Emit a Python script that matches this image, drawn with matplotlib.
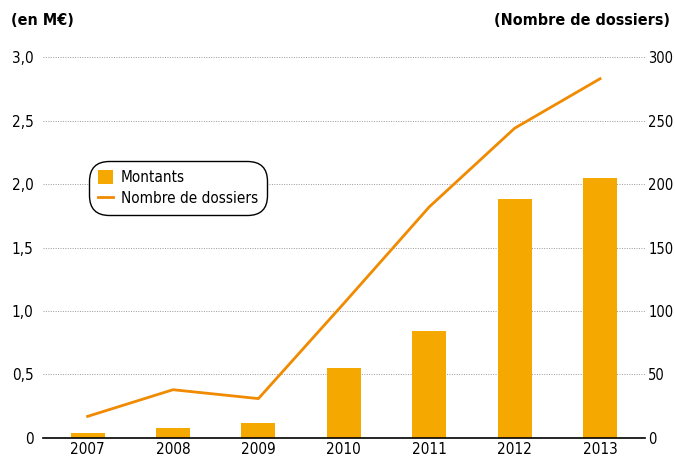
import numpy as np
import matplotlib.pyplot as plt
from matplotlib.patches import Patch
from matplotlib.lines import Line2D

# data
years = ['2007', '2008', '2009', '2010', '2011', '2012', '2013']
montants = [0.04, 0.08, 0.12, 0.55, 0.84, 1.88, 2.05]      # M€
dossiers = [17, 38, 31, 106, 182, 244, 283]                  # nombre de dossiers

left_ticks = [0, 0.5, 1.0, 1.5, 2.0, 2.5, 3.0]
left_labels = ['0', '0,5', '1,0', '1,5', '2,0', '2,5', '3,0']
right_ticks = [0, 50, 100, 150, 200, 250, 300]

BAR_COLOR = '#F5A800'
LINE_COLOR = '#F08A00'

plt.rcParams['font.family'] = ['DejaVu Sans']
plt.rcParams['font.stretch'] = 'condensed'
plt.rcParams['font.size'] = 11

fig = plt.figure(figsize=(6.75, 4.61), dpi=100)
ax = fig.add_axes([0.064, 0.05, 0.892, 0.826])
x = np.arange(len(years))

ax.bar(x, montants, width=0.4, color=BAR_COLOR, zorder=2)
ax.set_ylim(0, 3.0)
ax.set_xlim(-0.52, 6.53)
ax.set_yticks(left_ticks)
ax.set_yticklabels(left_labels)
ax.set_xticks(x)
ax.set_xticklabels(years)
ax.grid(axis='y', linestyle=(0, (1, 1.5)), color='#999999', linewidth=0.7, zorder=0)
for s in ['top', 'left', 'right']:
    ax.spines[s].set_visible(False)
ax.spines['bottom'].set_linewidth(1.2)
ax.spines['bottom'].set_zorder(3)
ax.tick_params(axis='y', length=0, pad=7, labelsize=11)
ax.tick_params(axis='x', length=0, pad=3, labelsize=11)

ax2 = ax.twinx()
ax2.plot(x, dossiers, color=LINE_COLOR, linewidth=2, zorder=3)
ax2.set_ylim(0, 300)
ax2.set_yticks(right_ticks)
for s in ['top', 'left', 'right', 'bottom']:
    ax2.spines[s].set_visible(False)
ax2.tick_params(axis='y', length=0, pad=2, labelsize=10.5)

handles = [Patch(facecolor=BAR_COLOR, edgecolor='none'),
           Line2D([], [], color=LINE_COLOR, linewidth=2)]
leg = ax.legend(handles, ['Montants', 'Nombre de dossiers'],
                loc='upper left', bbox_to_anchor=(0.068, 0.74),
                frameon=True, fontsize=11, handlelength=1.0, handleheight=1.0,
                handletextpad=0.5, labelspacing=0.4, borderpad=0.4)
frame = leg.get_frame()
frame.set_edgecolor('black')
frame.set_linewidth(1.0)
frame.set_facecolor('white')
frame.set_alpha(1)
frame.set_boxstyle('round,pad=0.2,rounding_size=1.3')

fig.text(0.016, 0.955, '(en M€)', fontsize=11.5, fontweight='bold', ha='left', va='center')
fig.text(0.993, 0.955, '(Nombre de dossiers)', fontsize=11.5, fontweight='bold', ha='right', va='center')

fig.savefig('out.png', dpi=100)
